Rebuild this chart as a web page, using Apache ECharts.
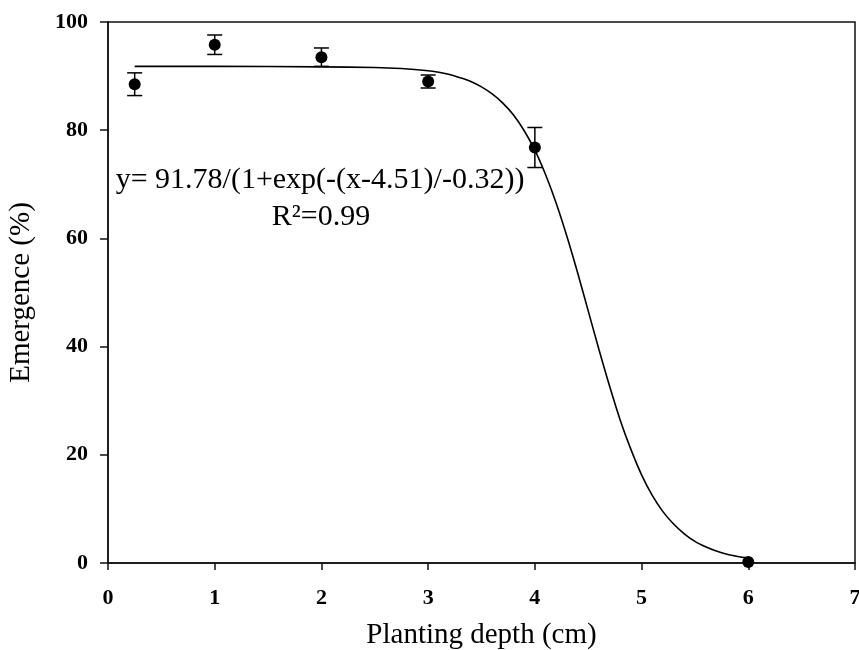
<!DOCTYPE html>
<html>
<head>
<meta charset="utf-8">
<script src="https://cdn.jsdelivr.net/npm/echarts@6/dist/echarts.min.js"></script>
<style>html,body{margin:0;padding:0;background:#fff}#c{width:859px;height:650px}</style>
</head>
<body>
<div id="c"></div>
<script>
// Observed data (planting depth, emergence %, standard error)
var depths = [0.25, 1, 2, 3, 4, 6];
var emergence = [88.5, 95.8, 93.5, 89.0, 76.8, 0.2];
var errors = [2.1, 1.8, 1.7, 1.2, 3.7, 0];

// Fitted curve
var curveX = [0.25, 1, 2, 2.5, 2.75, 3, 3.1, 3.2, 3.3, 3.4, 3.5, 3.6, 3.7, 3.8, 3.9, 4, 4.1, 4.2, 4.3, 4.4, 4.5, 4.6, 4.7, 4.8, 4.9, 5, 5.1, 5.2, 5.3, 5.4, 5.5, 5.6, 5.7, 5.8, 5.9, 6];
var curveY = [91.8, 91.8, 91.7, 91.6, 91.4, 91.0, 90.7, 90.3, 89.7, 89.0, 88.0, 86.7, 85.0, 82.8, 79.9, 76.3, 71.8, 66.5, 60.4, 53.7, 46.6, 39.5, 32.7, 26.4, 21.0, 16.3, 12.5, 9.5, 7.2, 5.4, 4.0, 3.0, 2.2, 1.6, 1.2, 0.9];

var xTicks = [0, 1, 2, 3, 4, 5, 6, 7];
var yTicks = [0, 20, 40, 60, 80, 100];

var eqLine1 = 'y= 91.78/(1+exp(-(x-4.51)/-0.32))';
var eqLine2 = 'R\u00B2=0.99';

var chart = echarts.init(document.getElementById('c'), null, {renderer: 'canvas'});

var pts = depths.map(function (d, i) { return [d, emergence[i]]; });
var errData = depths.map(function (d, i) { return [d, emergence[i] - errors[i], emergence[i] + errors[i]]; })
  .filter(function (r) { return r[2] - r[1] > 0; });
var curve = curveX.map(function (x, i) { return [x, curveY[i]]; });

var serif = '"Liberation Serif", "Times New Roman", serif';

chart.setOption({
  animation: false,
  backgroundColor: '#fff',
  grid: {left: 108, right: 4, top: 22, bottom: 87, show: true, borderColor: '#111', borderWidth: 1.5,
         containLabel: false, outerBoundsMode: 'none'},
  xAxis: {
    type: 'value', min: xTicks[0], max: xTicks[xTicks.length - 1], interval: 1,
    name: 'Planting depth (cm)', nameLocation: 'middle', nameGap: 58,
    nameTextStyle: {fontFamily: serif, fontSize: 29, color: '#000'},
    axisLine: {show: true, lineStyle: {color: '#111', width: 1.5}},
    axisTick: {show: true, inside: false, length: 7, lineStyle: {color: '#111', width: 1.5}},
    axisLabel: {margin: 24, fontFamily: serif, fontSize: 22, fontWeight: 'bold', color: '#000', hideOverlap: false},
    splitLine: {show: false}
  },
  yAxis: {
    type: 'value', min: yTicks[0], max: yTicks[yTicks.length - 1], interval: 20,
    name: 'Emergence (%)', nameLocation: 'middle', nameGap: 72,
    nameTextStyle: {fontFamily: serif, fontSize: 29, color: '#000'},
    axisLine: {show: true, lineStyle: {color: '#111', width: 1.5}},
    axisTick: {show: true, inside: false, length: 8, lineStyle: {color: '#111', width: 1.5}},
    axisLabel: {margin: 20, fontFamily: serif, fontSize: 22, fontWeight: 'bold', color: '#000'},
    splitLine: {show: false}
  },
  series: [
    {
      type: 'line', data: curve, smooth: 0.3, showSymbol: false, symbol: 'none',
      lineStyle: {color: '#000', width: 1.6}, z: 2
    },
    {
      type: 'custom', data: errData, z: 3,
      renderItem: function (params, api) {
        var x = api.value(0);
        var lo = api.coord([x, api.value(1)]);
        var hi = api.coord([x, api.value(2)]);
        var hw = 7.5;
        var st = {stroke: '#000', lineWidth: 1.5};
        return {type: 'group', children: [
          {type: 'line', shape: {x1: lo[0], y1: lo[1], x2: hi[0], y2: hi[1]}, style: st},
          {type: 'line', shape: {x1: lo[0] - hw, y1: lo[1], x2: lo[0] + hw, y2: lo[1]}, style: st},
          {type: 'line', shape: {x1: hi[0] - hw, y1: hi[1], x2: hi[0] + hw, y2: hi[1]}, style: st}
        ]};
      }
    },
    {
      type: 'scatter', data: pts, symbol: 'circle', symbolSize: 12,
      itemStyle: {color: '#000', opacity: 1}, z: 4
    }
  ],
  graphic: [
    {type: 'text', x: 320, y: 165, style: {text: eqLine1, font: '30px ' + serif, fill: '#000', textAlign: 'center', textVerticalAlign: 'top'}},
    {type: 'text', x: 321, y: 202, style: {text: eqLine2, font: '30px ' + serif, fill: '#000', textAlign: 'center', textVerticalAlign: 'top'}}
  ]
});
</script>
</body>
</html>
